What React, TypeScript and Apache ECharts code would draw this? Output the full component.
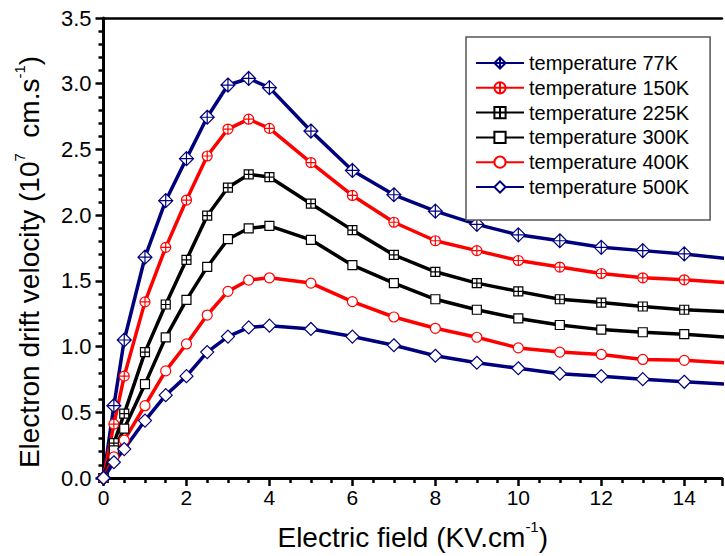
import React, { useEffect, useRef } from "react";
import * as echarts from "echarts";

const xValues = [0, 0.25, 0.5, 1, 1.5, 2, 2.5, 3, 3.5, 4, 5, 6, 7, 8, 9, 10, 11, 12, 13, 14, 15];
const v77 = [0, 0.55, 1.05, 1.68, 2.11, 2.43, 2.745, 2.99, 3.04, 2.97, 2.64, 2.34, 2.155, 2.03, 1.93, 1.85, 1.805, 1.755, 1.73, 1.705, 1.67];
const v150 = [0, 0.41, 0.775, 1.34, 1.755, 2.115, 2.45, 2.655, 2.73, 2.66, 2.4, 2.15, 1.946, 1.805, 1.73, 1.655, 1.605, 1.556, 1.523, 1.508, 1.486];
const v225 = [0, 0.265, 0.49, 0.958, 1.32, 1.66, 1.996, 2.21, 2.31, 2.29, 2.087, 1.886, 1.697, 1.569, 1.483, 1.42, 1.36, 1.335, 1.305, 1.28, 1.267];
const v300 = [0, 0.21, 0.376, 0.714, 1.07, 1.355, 1.606, 1.817, 1.9, 1.918, 1.812, 1.619, 1.483, 1.36, 1.28, 1.214, 1.164, 1.129, 1.109, 1.094, 1.071];
const v400 = [0, 0.16, 0.288, 0.55, 0.815, 1.02, 1.24, 1.42, 1.506, 1.523, 1.483, 1.342, 1.225, 1.139, 1.071, 0.99, 0.958, 0.94, 0.902, 0.895, 0.877];
const v500 = [0, 0.12, 0.22, 0.437, 0.63, 0.775, 0.958, 1.076, 1.146, 1.159, 1.134, 1.076, 1.01, 0.93, 0.877, 0.835, 0.794, 0.775, 0.752, 0.732, 0.714];

const seriesNames = [
  "temperature 77K",
  "temperature 150K",
  "temperature 225K",
  "temperature 300K",
  "temperature 400K",
  "temperature 500K",
];

const NAVY = "#00007f";
const RED = "#ff0000";
const BLACK = "#000000";

const DIAMOND_CROSS = "path://M0,-10 L10,0 L0,10 L-10,0 Z M0,-10 L0,10 M-10,0 L10,0";
const CIRCLE_CROSS = "path://M-10,0 A10,10 0 1,0 10,0 A10,10 0 1,0 -10,0 Z M0,-10 L0,10 M-10,0 L10,0";
const SQUARE_CROSS = "path://M-10,-10 L10,-10 L10,10 L-10,10 Z M0,-10 L0,10 M-10,0 L10,0";
const SQUARE = "path://M-10,-10 L10,-10 L10,10 L-10,10 Z";
const CIRCLE = "path://M-10,0 A10,10 0 1,0 10,0 A10,10 0 1,0 -10,0 Z";
const DIAMOND = "path://M0,-10 L10,0 L0,10 L-10,0 Z";

const FONT = "'Liberation Sans', Arial, Helvetica, sans-serif";

export default function App() {
  const ref = useRef<HTMLDivElement>(null);

  useEffect(() => {
    if (!ref.current) return;
    const chart = echarts.init(ref.current, undefined, { renderer: "svg" });

    const defs = [
      { name: seriesNames[0], data: v77, color: NAVY, symbol: DIAMOND_CROSS, size: 14 },
      { name: seriesNames[1], data: v150, color: RED, symbol: CIRCLE_CROSS, size: 10 },
      { name: seriesNames[2], data: v225, color: BLACK, symbol: SQUARE_CROSS, size: 9 },
      { name: seriesNames[3], data: v300, color: BLACK, symbol: SQUARE, size: 9 },
      { name: seriesNames[4], data: v400, color: RED, symbol: CIRCLE, size: 10 },
      { name: seriesNames[5], data: v500, color: NAVY, symbol: DIAMOND, size: 13 },
    ];

    const series = defs.map((d) => ({
      name: d.name,
      type: "line",
      data: xValues.map((x, i) => [x, d.data[i]]),
      symbol: d.symbol,
      symbolSize: d.size,
      showAllSymbol: true,
      clip: true,
      lineStyle: { color: d.color, width: 3.5 },
      itemStyle: { color: "#ffffff", borderColor: d.color, borderWidth: 1.2 },
      emphasis: { disabled: true },
    }));

    const richTitle = {
      a: { fontSize: 28, lineHeight: 32, fontFamily: FONT, color: "#000", verticalAlign: "bottom" },
      s: { fontSize: 15, lineHeight: 15, fontFamily: FONT, color: "#000", verticalAlign: "top" },
    };

    const option = {
      animation: false,
      textStyle: { fontFamily: FONT },
      grid: { left: 103.5, top: 18, right: 0, bottom: 556 - 481.5, containLabel: false },
      legend: {
        orient: "vertical",
        left: 466,
        top: 37,
        padding: [16, 21, 23, 9],
        itemWidth: 48,
        itemHeight: 14,
        itemGap: 4.8,
        backgroundColor: "#ffffff",
        borderColor: "#555555",
        borderWidth: 1.5,
        borderRadius: 0,
        textStyle: { fontSize: 20, color: "#000", fontFamily: FONT },
        data: seriesNames,
      },
      xAxis: [
        {
          type: "value",
          min: 0,
          max: 14.91,
          interval: 2,
          name: "{a|Electric field (KV.cm}{s|-1}{a|)}",
          nameLocation: "middle",
          nameGap: 41,
          nameTextStyle: { rich: richTitle },
          axisLine: { show: true, onZero: false, lineStyle: { color: "#000", width: 3 } },
          axisTick: { show: true, inside: false, length: 8, lineStyle: { color: "#000", width: 2.5 } },
          minorTick: { show: true, splitNumber: 4, length: 5, lineStyle: { color: "#000", width: 2.5 } },
          axisLabel: {
            margin: 9,
            fontSize: 21,
            color: "#000",
            fontFamily: FONT,
            formatter: (v: number) => (Math.abs(v % 2) < 1e-9 ? String(v) : ""),
          },
          splitLine: { show: false },
          minorSplitLine: { show: false },
        },
        {
          type: "value",
          position: "top",
          min: 0,
          max: 14.91,
          axisLine: { show: true, onZero: false, lineStyle: { color: "#000", width: 2.5 } },
          axisTick: { show: false },
          axisLabel: { show: false },
          splitLine: { show: false },
        },
      ],
      yAxis: {
        type: "value",
        min: 0,
        max: 3.5,
        interval: 0.5,
        name: "{a|Electron drift velocity (10}{s|7}{a|  cm.s}{s|-1}{a|)}",
        nameLocation: "middle",
        nameRotate: 90,
        nameGap: 60,
        nameTextStyle: { rich: richTitle, padding: [0, 28, 0, 0] },
        axisLine: { show: true, onZero: false, lineStyle: { color: "#000", width: 3 } },
        axisTick: { show: true, inside: false, length: 8, lineStyle: { color: "#000", width: 2.5 } },
        minorTick: { show: true, splitNumber: 5, length: 5, lineStyle: { color: "#000", width: 2.5 } },
        axisLabel: {
          margin: 12,
          fontSize: 22,
          color: "#000",
          fontFamily: FONT,
          formatter: (v: number) => v.toFixed(1),
        },
        splitLine: { show: false },
        minorSplitLine: { show: false },
      },
      series,
    };

    chart.setOption(option as any);
    return () => chart.dispose();
  }, []);

  return (
    <div
      ref={ref}
      style={{ position: "fixed", left: 0, top: 0, width: 725, height: 556, background: "#fff" }}
    />
  );
}
